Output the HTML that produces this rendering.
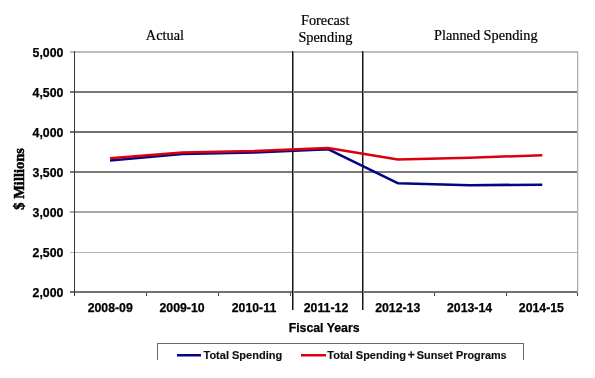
<!DOCTYPE html>
<html><head><meta charset="utf-8">
<style>
html,body{margin:0;padding:0;background:#fff;width:595px;height:378px;overflow:hidden}
svg{display:block;will-change:transform}
.ax{font-family:"Liberation Sans",sans-serif;font-weight:bold;font-size:12.3px;fill:#000;stroke:#000;stroke-width:0.25px}
.sf{font-family:"Liberation Serif",serif;font-size:14.3px;fill:#000;stroke:#000;stroke-width:0.2px}
.lg{font-family:"Liberation Sans",sans-serif;font-weight:bold;font-size:11px;fill:#111;stroke:#111;stroke-width:0.15px}
</style></head>
<body>
<svg width="595" height="378" viewBox="0 0 595 378" shape-rendering="crispEdges">
<rect x="0" y="0" width="595" height="378" fill="#fff"/>
<!-- gridlines -->
<rect x="70" y="51" width="507" height="2" fill="#bdbdbd"/>
<rect x="70" y="91" width="507" height="2" fill="#787878"/>
<rect x="70" y="131" width="507" height="2" fill="#727272"/>
<rect x="70" y="171" width="507" height="2" fill="#7a7a7a"/>
<rect x="70" y="211" width="507" height="2" fill="#a8a8a8"/>
<rect x="70" y="252" width="507" height="1" fill="#b4b4b4"/>
<rect x="70" y="291" width="508" height="2" fill="#727272"/>
<!-- right border -->
<rect x="577" y="51" width="1" height="241" fill="#b0b0b0"/><rect x="578" y="52" width="1" height="240" fill="#e6e6e6"/>
<!-- y axis -->
<rect x="74" y="51" width="1" height="245" fill="#383838"/>
<!-- bottom ticks -->
<rect x="146" y="293" width="1" height="3" fill="#444"/>
<rect x="218" y="293" width="1" height="3" fill="#444"/>
<rect x="290" y="293" width="1" height="3" fill="#666"/>
<rect x="434" y="293" width="1" height="3" fill="#444"/>
<rect x="506" y="293" width="1" height="3" fill="#444"/>
<rect x="577" y="293" width="1" height="3" fill="#444"/>
<!-- divider lines -->
<rect x="292" y="51" width="1" height="259" fill="#151515"/>
<rect x="293" y="51" width="1" height="259" fill="#8a8a8a"/>
<rect x="362" y="51" width="1" height="259" fill="#151515"/>
<rect x="363" y="51" width="1" height="259" fill="#8a8a8a"/>

<!-- data lines -->
<g shape-rendering="geometricPrecision" fill="none" stroke-linejoin="round">
<polyline stroke="#05057f" stroke-width="2.6" points="110,160.5 182.3,154 254.2,152.5 328.5,149.3 398.2,183.3 469.7,185.2 542.3,184.7"/>
<polyline stroke="#d9000f" stroke-width="2.5" points="110,158.3 182.3,152.4 254.2,151.1 328,147.9 397.9,159.5 469.7,157.8 542.3,155.2"/>
</g>

<!-- y labels -->
<g class="ax" text-anchor="end">
<text x="63.4" y="56.5">5,000</text>
<text x="63.4" y="96.5">4,500</text>
<text x="63.4" y="136.5">4,000</text>
<text x="63.4" y="176.5">3,500</text>
<text x="63.4" y="216.5">3,000</text>
<text x="63.4" y="256.5">2,500</text>
<text x="63.4" y="296.5">2,000</text>
</g>
<!-- x labels -->
<g class="ax" text-anchor="middle">
<text x="110.2" y="311.5">2008-09</text>
<text x="182.1" y="311.5">2009-10</text>
<text x="254" y="311.5">2010-11</text>
<text x="326" y="311.5">2011-12</text>
<text x="397.7" y="311.5">2012-13</text>
<text x="469.6" y="311.5">2013-14</text>
<text x="541.4" y="311.5">2014-15</text>
<text x="324.1" y="332">Fiscal Years</text>
</g>
<text class="sf" text-anchor="middle" transform="translate(23.5,178.9) rotate(-90)" style="font-weight:bold;font-size:14.5px;stroke-width:0.5px">$ Millions</text>

<g class="sf" text-anchor="middle">
<text x="164.9" y="39.7">Actual</text>
<text x="325.2" y="24.7">Forecast</text>
<text x="325.4" y="41.6">Spending</text>
<text x="485.8" y="39.8">Planned Spending</text>
</g>

<!-- legend -->
<rect x="157" y="343" width="367" height="1" fill="#6a6a6a"/>
<rect x="157" y="343" width="1" height="17" fill="#6a6a6a"/>
<rect x="523" y="343" width="1" height="17" fill="#6a6a6a"/>
<rect x="177" y="354" width="24" height="2.5" fill="#05057f" shape-rendering="geometricPrecision"/>
<rect x="301" y="354" width="25" height="2.5" fill="#d9000f" shape-rendering="geometricPrecision"/>
<g class="lg">
<text x="203.5" y="358.6">Total Spending</text>
<text x="327.3" y="358.6">Total Spending</text>
<text x="407.8" y="358.6" style="font-size:12px">+</text>
<text x="416.8" y="358.6" style="font-size:10.85px">Sunset Programs</text>
</g>
</svg>
</body></html>
